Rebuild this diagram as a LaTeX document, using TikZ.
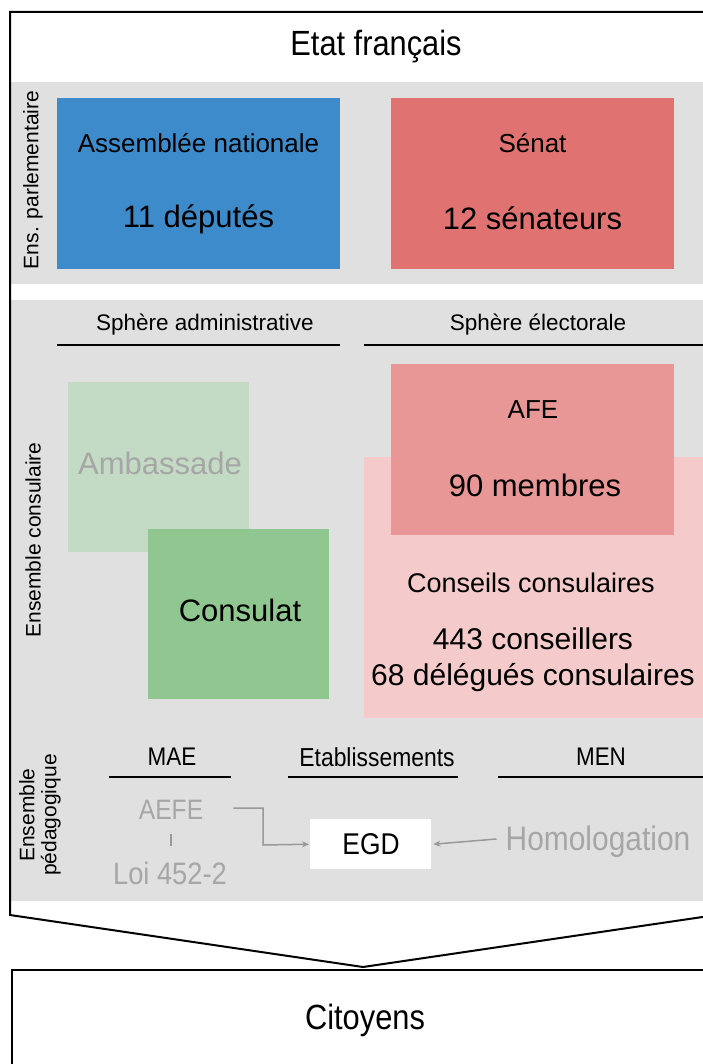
\documentclass[tikz,border=0pt]{standalone}
\usepackage{fontspec}
\setmainfont{Liberation Sans}
\newfontfamily\cond[FakeStretch=0.88]{Liberation Sans}
\usetikzlibrary{arrows.meta}
\definecolor{bandgray}{HTML}{E0E0E0}
\definecolor{anblue}{HTML}{3D8BCB}
\definecolor{senred}{HTML}{E07371}
\definecolor{afered}{HTML}{E99696}
\definecolor{ccpink}{HTML}{F4CACA}
\definecolor{ambgreen}{HTML}{C3DAC5}
\definecolor{consgreen}{HTML}{90C68F}
\definecolor{softtext}{HTML}{A6A6A6}
\definecolor{arrowgray}{HTML}{999999}
\newcommand{\fs}[1]{\fontsize{#1}{#1}\selectfont}
\begin{document}
\begin{tikzpicture}[x=1pt,y=-1pt,
  box/.style={draw=none,inner sep=0pt,anchor=north west},
  txt/.style={inner sep=0pt,anchor=center},
  side/.style={inner sep=0pt,anchor=center,rotate=90,align=center},
  uline/.style={line width=2pt,black},
  garrow/.style={line width=1.5pt,arrowgray,-{Stealth[length=7pt,width=6pt]}},
  frame/.style={line width=2pt,black,line join=miter}]
\useasboundingbox (0,0) rectangle (703,1064);
\clip (0,0) rectangle (703,1064);
% bands
\fill[bandgray] (10,82) rectangle (716,284);
\fill[bandgray] (10,300) rectangle (716,901);
% outer frame
\draw[frame] (716,12) -- (10,12) -- (10,915) -- (363,967) -- (716,915) -- cycle;
\node[txt] (etat) at (376,47) {\cond\fs{35}Etat français};
% parlementaire
\node[side] (ensparl) at (33,180) {\fs{21}Ens. parlementaire};
\node[box,fill=anblue,minimum width=283pt,minimum height=171pt] (an) at (57,98) {};
\node[box,fill=senred,minimum width=283pt,minimum height=171pt] (senat) at (391,98) {};
\node[txt] (antitle) at (198.5,143) {\fs{26}Assemblée nationale};
\node[txt] (annum) at (198.5,219) {\fs{31}11 députés};
\node[txt] (sentitle) at (532.5,143) {\fs{26}Sénat};
\node[txt] (sennum) at (532.5,218) {\fs{31}12 sénateurs};
% consulaire
\node[side] (enscons) at (33,540) {\fs{21}Ensemble consulaire};
\node[txt] (sadm) at (205,325) {\fs{22.5}Sphère administrative};
\node[txt] (selec) at (538,325) {\fs{22.5}Sphère électorale};
\draw[uline] (57,345) -- (340,345);
\draw[uline] (364,345) -- (716,345);
\node[box,fill=ambgreen,minimum width=181pt,minimum height=170pt] (amb) at (68,382) {};
\node[txt,text=softtext] (ambt) at (160,463) {\fs{31}Ambassade};
\node[box,fill=consgreen,minimum width=181pt,minimum height=170pt] (cons) at (148,529) {};
\node[txt] (const) at (240,610) {\fs{31}Consulat};
\node[box,fill=ccpink,minimum width=352pt,minimum height=261pt] (cc) at (364,457) {};
\node[box,fill=afered,minimum width=283pt,minimum height=171pt] (afe) at (391,364) {};
\node[txt] (afet) at (533,410) {\fs{26}AFE};
\node[txt] (afen) at (535,485) {\fs{31}90 membres};
\node[txt] (cct) at (531,583) {\fs{27}Conseils consulaires};
\node[txt,align=center,font=\fontsize{30}{36}\selectfont] (ccn) at (533,660) {443 conseillers\\68 délégués consulaires};
% pedagogique
\node[side,font=\fontsize{21}{22}\selectfont] (enspeda) at (40,815) {Ensemble\\pédagogique};
\node[txt] (mae) at (172,757) {\cond\fs{25.5}MAE};
\node[txt] (etab) at (377,757) {\cond\fs{26}Etablissements};
\node[txt] (men) at (601,757) {\cond\fs{25.5}MEN};
\draw[uline] (109,777) -- (231,777);
\draw[uline] (288,777) -- (458,777);
\draw[uline] (498,777) -- (716,777);
\node[txt,text=softtext] (aefe) at (171,810) {\cond\fs{28}AEFE};
\node[txt,text=softtext] (loi) at (170,873) {\cond\fs{31}Loi 452-2};
\draw[line width=1.5pt,arrowgray] (171,834) -- (171,846);
\node[box,fill=white,minimum width=121pt,minimum height=50pt] (egd) at (310,819) {};
\node[txt] (egdt) at (371,844) {\cond\fs{30}EGD};
\node[txt,text=softtext] (homol) at (598,842) {\cond\fs{34}Homologation};
\draw[garrow] ([xshift=30pt,yshift=2pt]aefe.east) -| (263,845) -- ([xshift=-1pt]egd.west);
\draw[garrow] ([xshift=-9pt,yshift=3pt]homol.west) -- ([xshift=2pt]egd.east);
% citoyens
\draw[frame] (12,970) rectangle (720,1075);
\node[txt] (cit) at (365,1020) {\cond\fs{35}Citoyens};
\end{tikzpicture}
\end{document}
